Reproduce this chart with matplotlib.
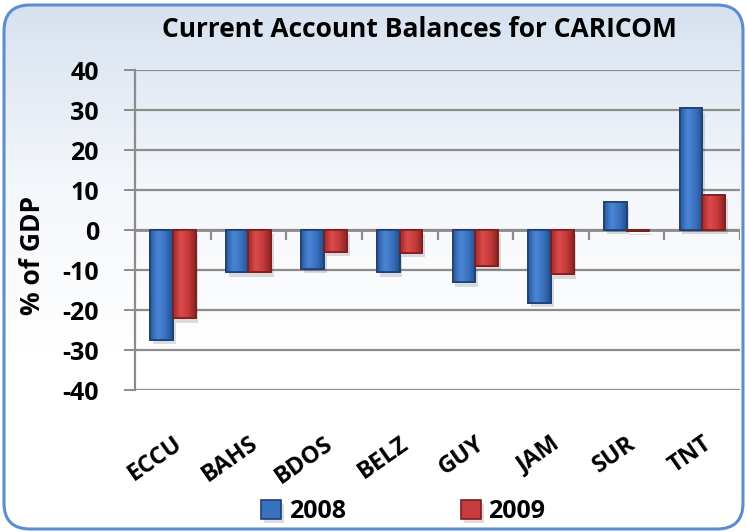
import numpy as np
import matplotlib.pyplot as plt
import matplotlib.patheffects as pe
from matplotlib.patches import FancyBboxPatch
from matplotlib.colors import LinearSegmentedColormap

# data
categories = ['ECCU', 'BAHS', 'BDOS', 'BELZ', 'GUY', 'JAM', 'SUR', 'TNT']
vals_2008 = [-27.5, -10.6, -9.7, -10.6, -13.1, -18.2, 6.9, 30.4]
vals_2009 = [-22.1, -10.6, -5.4, -5.7, -9.0, -11.1, -0.3, 8.7]
series_names = ['2008', '2009']
yticks = [-40, -30, -20, -10, 0, 10, 20, 30, 40]

plt.rcParams['font.family'] = ['Open Sans', 'DejaVu Sans']
plt.rcParams['font.weight'] = 'bold'
plt.rcParams['axes.unicode_minus'] = False

W, H = 747, 532
fig = plt.figure(figsize=(W / 100, H / 100), dpi=100)

# background: rounded frame with a soft blue-to-white fade
bg = fig.add_axes([0, 0, 1, 1], zorder=-10)
bg.set_axis_off()
bg.set_xlim(0, W)
bg.set_ylim(0, H)
fade = LinearSegmentedColormap.from_list('fade', ['#ffffff', '#ffffff', '#f3f6fa', '#d6e1ef'])
grad = np.linspace(0, 1, 256).reshape(-1, 1)
img = bg.imshow(grad, extent=[0, W, 0, H], origin='lower', cmap=fade, aspect='auto')
frame = FancyBboxPatch((4, 3), W - 8, H - 8, boxstyle='round,pad=0,rounding_size=26',
                       facecolor='none', edgecolor='#5b8dd0', linewidth=2.2)
bg.add_patch(frame)
img.set_clip_path(frame)

ax = fig.add_axes([135 / W, 1 - 390 / H, 605 / W, 320 / H])
ax.set_facecolor('none')

x = np.arange(len(categories))
bw = 0.3
shadow = [pe.SimplePatchShadow(offset=(2, -3), alpha=0.15), pe.Normal()]
b1 = ax.bar(x - bw / 2, vals_2008, bw, color='#3a72c0', edgecolor='#1e3f72',
            linewidth=1.2, label=series_names[0], zorder=3)
b2 = ax.bar(x + bw / 2, vals_2009, bw, color='#c63b3b', edgecolor='#7c1e1e',
            linewidth=1.2, label=series_names[1], zorder=3)

# bevel look: horizontal shading inside each bar
shade_blue = LinearSegmentedColormap.from_list('sb', ['#2a5aa0', '#4a86d6', '#3a72c0', '#22508f'])
shade_red = LinearSegmentedColormap.from_list('sr', ['#a02a2a', '#dc4b4b', '#c63b3b', '#8e2323'])
hgrad = np.linspace(0, 1, 64).reshape(1, -1)
for bars, cm in [(b1, shade_blue), (b2, shade_red)]:
    for b in bars:
        b.set_path_effects(shadow)
        x0, y0, w, h = b.get_x(), b.get_y(), b.get_width(), b.get_height()
        im = ax.imshow(hgrad, extent=[x0, x0 + w, y0, y0 + h], cmap=cm,
                       aspect='auto', zorder=3.5, interpolation='bicubic')
        im.set_clip_path(b)
        ax.add_patch(plt.Rectangle((x0, y0), w, h, facecolor='none',
                                   edgecolor=b.get_edgecolor(), linewidth=1.2, zorder=4))

ax.set_xlim(-0.5, len(categories) - 0.5)
ax.set_ylim(-40, 40)
ax.set_yticks(yticks)
ax.yaxis.grid(True, color='#8c8c8c', linewidth=1.6)
ax.set_axisbelow(True)
for s in ['top', 'right', 'bottom']:
    ax.spines[s].set_visible(False)
ax.spines['left'].set_color('#8c8c8c')
ax.spines['left'].set_linewidth(1.6)
ax.tick_params(axis='y', length=8, width=1.4, color='#8c8c8c', pad=18, labelsize=18)

# category axis sits at zero with tick marks between groups
ax.axhline(0, color='#8c8c8c', linewidth=2, zorder=2)
ax.vlines(x + 0.5, -2.5, 0, color='#8c8c8c', linewidth=1.6, zorder=2)

ax.set_xticks(x)
ax.set_xticklabels(categories, rotation=35, ha='right', rotation_mode='anchor', fontsize=17)
ax.tick_params(axis='x', length=0, pad=30)

fig.text(0.044, 0.52, '% of GDP', rotation=90, ha='center', va='center', fontsize=19)
fig.text(0.562, 0.944, 'Current Account Balances for CARICOM', ha='center', va='center', fontsize=19)

fig.legend(handles=[b1, b2], loc='center', bbox_to_anchor=(0.54, 0.038), ncol=2,
           frameon=False, fontsize=18, handlelength=0.8, handleheight=0.8,
           columnspacing=4.6, handletextpad=0.3)

fig.savefig('out.png', dpi=100)
